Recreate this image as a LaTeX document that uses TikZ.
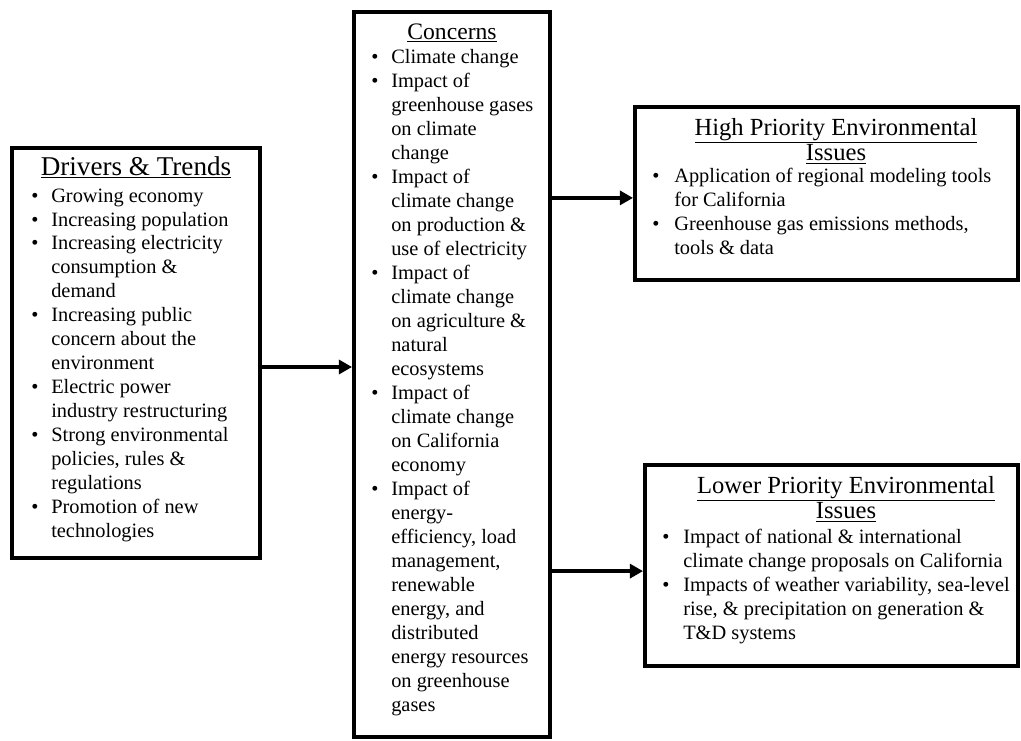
\documentclass[tikz,border=0pt]{standalone}
\usepackage{fontspec}
\setmainfont{Liberation Serif}
\usetikzlibrary{positioning,arrows.meta}
\tikzset{
  flow/.style={-{Triangle[length=3.3mm,width=3.5mm]},line width=2.4pt,draw=black},
  panel/.style={draw=black,line width=2.8pt,fill=white,inner sep=0pt},
  head/.style={anchor=base,inner sep=0pt,align=center},
  itemlist/.style={anchor=base west,inner sep=0pt,font=\fontsize{14.5}{17.07}\selectfont}
}

\begin{document}
\begin{tikzpicture}
  \useasboundingbox (0,0) rectangle (25.525,-18.5);
  \node[panel,minimum width=6.2cm,minimum height=10.25cm] (drivers) at (3.4,-8.825) {};
  \node[panel,minimum width=4.9cm,minimum height=18.125cm] (concerns) at (11.3,-9.3625) {};
  \node[panel,minimum width=9.575cm,minimum height=4.325cm] (high) at (20.6625,-4.8375) {};
  \node[panel,minimum width=9.325cm,minimum height=5.025cm] (lower) at (20.7875,-14.1375) {};

  \node[head,font=\fontsize{19.3}{22}\selectfont] (drvhead) at (3.4,-4.375) {\underline{Drivers \& Trends}};
  \node[itemlist] (drvlist) at (0.775,-5.05) {\begin{tabular}[t]{@{}p{0.5cm}@{}l@{}}
    \textbullet & Growing economy\\
    \textbullet & Increasing population\\
    \textbullet & Increasing electricity\\
                & consumption \&\\
                & demand\\
    \textbullet & Increasing public\\
                & concern about the\\
                & environment\\
    \textbullet & Electric power\\
                & industry restructuring\\
    \textbullet & Strong environmental\\
                & policies, rules \&\\
                & regulations\\
    \textbullet & Promotion of new\\
                & technologies
  \end{tabular}};

  \node[head,font=\fontsize{16.8}{20}\selectfont] (conhead) at (11.3,-0.985) {\underline{Concerns}};
  \node[itemlist] (conlist) at (9.275,-1.585) {\begin{tabular}[t]{@{}p{0.5cm}@{}l@{}}
    \textbullet & Climate change\\
    \textbullet & Impact of\\
                & greenhouse gases\\
                & on climate\\
                & change\\
    \textbullet & Impact of\\
                & climate change\\
                & on production \&\\
                & use of electricity\\
    \textbullet & Impact of\\
                & climate change\\
                & on agriculture \&\\
                & natural\\
                & ecosystems\\
    \textbullet & Impact of\\
                & climate change\\
                & on California\\
                & economy\\
    \textbullet & Impact of\\
                & energy-\\
                & efficiency, load\\
                & management,\\
                & renewable\\
                & energy, and\\
                & distributed\\
                & energy resources\\
                & on greenhouse\\
                & gases
  \end{tabular}};

  \node[head,font=\fontsize{17.5}{17.8}\selectfont] (highhead) at (20.9,-3.375) {\begin{tabular}[t]{@{}c@{}}
    \underline{High Priority Environmental}\\
    \underline{Issues}
  \end{tabular}};
  \node[itemlist] (highlist) at (16.3,-4.57) {\begin{tabular}[t]{@{}p{0.55cm}@{}l@{}}
    \textbullet & Application of regional modeling tools\\
                & for California\\
    \textbullet & Greenhouse gas emissions methods,\\
                & tools \& data
  \end{tabular}};

  \node[head,font=\fontsize{17.5}{17.8}\selectfont] (lowhead) at (21.15,-12.33) {\begin{tabular}[t]{@{}c@{}}
    \underline{Lower Priority Environmental}\\
    \underline{Issues}
  \end{tabular}};
  \node[itemlist] (lowlist) at (16.55,-13.58) {\begin{tabular}[t]{@{}p{0.525cm}@{}l@{}}
    \textbullet & Impact of national \& international\\
                & climate change proposals on California\\
    \textbullet & Impacts of weather variability, sea-level\\
                & rise, \& precipitation on generation \&\\
                & T\&D systems
  \end{tabular}};

  \coordinate (dout) at ([yshift=-0.35cm]drivers.east);
  \coordinate (hin) at ([yshift=-0.11cm]high.west);
  \coordinate (lin) at ([yshift=-0.14cm]lower.west);
  \draw[flow] (dout) -- (dout -| concerns.west);
  \draw[flow] (hin -| concerns.east) -- (hin);
  \draw[flow] (lin -| concerns.east) -- (lin);
\end{tikzpicture}
\end{document}
